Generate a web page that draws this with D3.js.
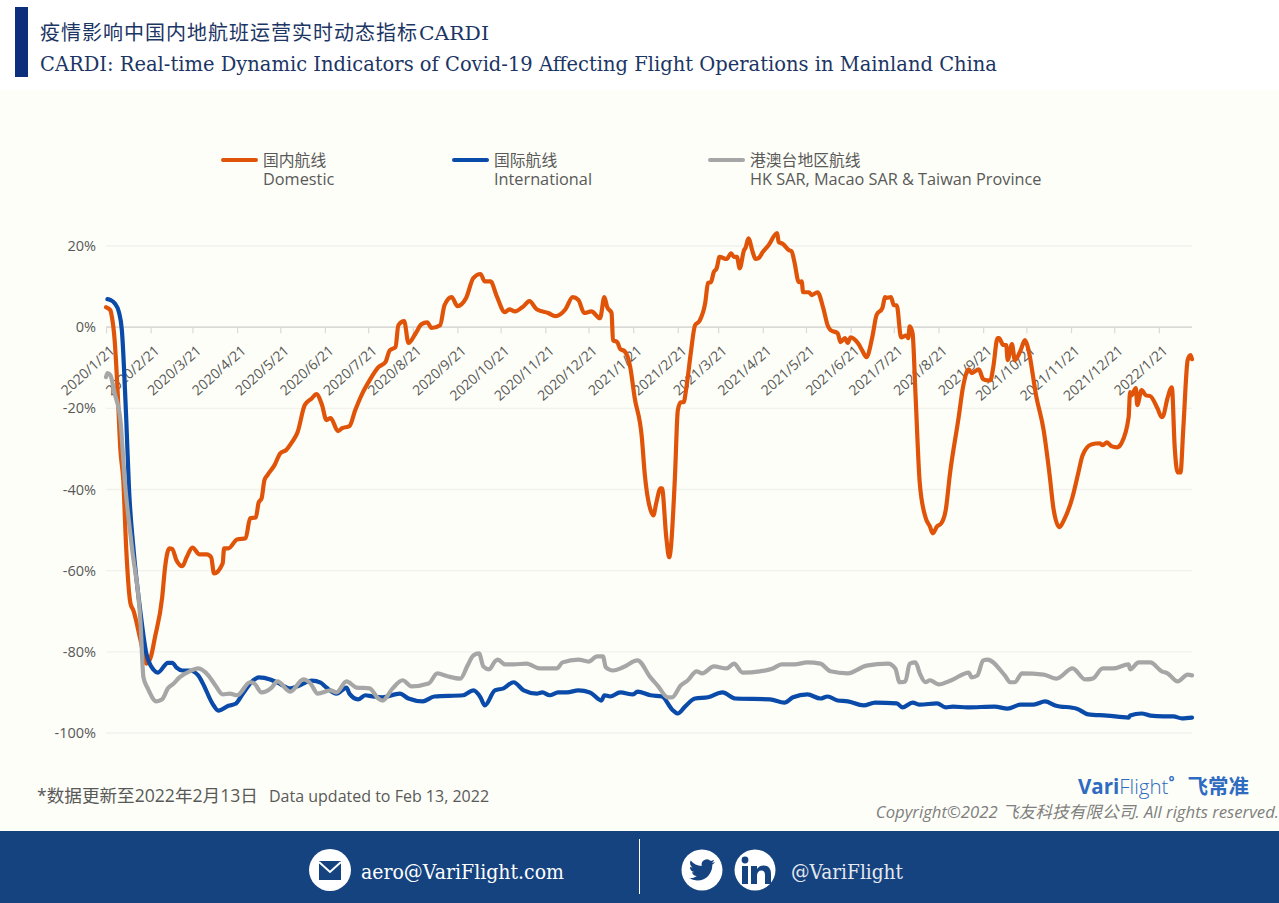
<!DOCTYPE html>
<html>
<head>
<meta charset="utf-8">
<script src="https://cdn.jsdelivr.net/npm/d3@7"></script>
<style>
    html, body { margin: 0; padding: 0; background: #fff; }
    svg { display: block; }
    .sans { font-family: "Open Sans", "Noto Sans CJK SC", sans-serif; }
    .cjk { font-family: "Noto Sans CJK SC", sans-serif; }
    .serif { font-family: "DejaVu Serif", "Noto Sans CJK SC", serif; }
</style>
</head>
<body>
<div id="chart"></div>
<script>
// all series are [days since 2020/1/21, percent]
const domestic = [[0,4.9],[3,4.2],[4,2.7],[6,-3.2],[8,-15.3],[10,-30.3],[12,-37.7],[14,-54.3],[17,-68.1],[19,-69.8],[24,-77.2],[28,-82.9],[31,-81.4],[34,-76.4],[39,-66.6],[41,-59.2],[44,-54.5],[46,-54.7],[49,-57.5],[53,-58.9],[56,-56.7],[60,-54.3],[65,-56],[70,-56],[73,-56.7],[75,-60.7],[81,-58.2],[82,-54.5],[85,-54.5],[91,-52.3],[97,-52],[100,-47.1],[104,-46.9],[106,-43.2],[108,-42.2],[110,-37.7],[112,-36.5],[117,-34],[121,-31.1],[125,-30.3],[129,-28.4],[133,-25.9],[138,-19.2],[143,-17.5],[146,-16.5],[150,-19.2],[153,-22.9],[156,-22.4],[161,-25.6],[164,-24.9],[169,-24.4],[173,-20.5],[178,-16.3],[183,-13.1],[189,-9.9],[194,-8.6],[197,-5.7],[201,-4.9],[203,0.5],[207,1.5],[210,-3.9],[215,-1.5],[219,0.7],[223,1.2],[226,-0.2],[232,0.5],[235,5.4],[240,7.4],[244,5.2],[250,7.2],[255,12.1],[260,13.1],[263,11.3],[267,11.3],[271,7.9],[277,3.7],[280,4.4],[284,3.9],[290,5.2],[294,6.4],[299,4.4],[307,3.5],[312,2.7],[319,4.4],[324,7.4],[328,6.7],[332,3.5],[337,3.9],[343,2.2],[346,7.4],[348,4.9],[351,3.5],[352,-3.2],[355,-3.7],[357,-5.4],[360,-5.9],[364,-9.9],[367,-17.3],[372,-27.1],[374,-36],[379,-45.9],[380,-46.4],[382,-43.4],[385,-39.7],[386,-39.7],[389,-51.8],[391,-56.7],[392,-55],[395,-37],[397,-20.5],[399,-18.5],[401,-18.5],[403,-14.8],[406,-6.4],[409,0.5],[412,1.5],[416,5.9],[418,10.9],[420,11.1],[422,13.6],[424,14.5],[426,17.3],[431,16.8],[434,18.2],[436,17.3],[438,17.3],[440,14.5],[443,19],[444,19.5],[446,21.9],[449,18.5],[451,16.8],[453,17],[456,18.5],[460,20.2],[466,23.2],[467,21],[470,20.5],[474,19],[476,18.7],[478,16],[481,11.1],[483,11.3],[484,8.6],[488,8.6],[490,7.9],[494,8.6],[498,4.7],[501,0.5],[503,-0.7],[508,-1.5],[510,-3.7],[513,-2.7],[515,-3.9],[517,-2.5],[522,-3.9],[525,-5.7],[528,-7.4],[532,-2.5],[535,3],[539,4.7],[541,7.4],[542,7.2],[545,7.4],[547,5.4],[549,5.4],[552,-2.5],[556,-2],[557,-2.7],[558,0.2],[560,-1.5],[562,-16.3],[565,-38.5],[569,-46.9],[572,-49.1],[574,-50.8],[577,-49.1],[580,-48.3],[583,-45.1],[586,-36],[592,-22.2],[595,-14.8],[599,-10.4],[601,-11.3],[606,-10.4],[609,-12.8],[612,-13.1],[614,-13.1],[616,-9.9],[619,-2.7],[620,-2.7],[623,-4.4],[625,-4.4],[626,-8.1],[629,-4.2],[631,-8.1],[635,-5.7],[638,-3.2],[640,-4.9],[646,-17.3],[651,-25.4],[655,-36],[658,-45.1],[662,-49.3],[665,-47.6],[671,-41.9],[675,-36],[678,-31.6],[684,-28.9],[690,-28.6],[692,-29.1],[695,-28.4],[698,-29.3],[702,-29.6],[705,-28.6],[710,-22.2],[711,-16],[712,-16.8],[715,-15],[716,-19.2],[719,-15.5],[722,-16.8],[725,-17],[730,-20],[733,-22.2],[734,-21.9],[737,-17.5],[740,-14.8],[742,-29.6],[744,-35.8],[746,-35.8],[748,-24.7],[751,-8.1],[753,-6.9],[754,-7.9]];

const international = [[1,6.9],[3,6.7],[6,5.9],[9,3.7],[11,-0.7],[14,-22.2],[16,-40],[19,-54.3],[24,-70.5],[28,-80.4],[33,-84.4],[36,-85.1],[43,-82.7],[46,-82.7],[49,-83.9],[53,-84.6],[58,-84.6],[64,-85.8],[67,-87.6],[74,-92.8],[78,-94.5],[85,-93.3],[90,-92.8],[95,-90.3],[102,-87.1],[106,-86.3],[114,-86.8],[119,-87.6],[128,-89],[133,-88.5],[143,-87.1],[149,-87.6],[153,-88.8],[160,-90.3],[167,-88.8],[169,-90.3],[175,-91.7],[180,-90.7],[185,-91],[192,-91.2],[204,-90.3],[210,-91.5],[220,-92.2],[228,-91],[248,-90.7],[255,-89.5],[260,-91.2],[263,-93.2],[270,-89.5],[276,-89],[283,-87.5],[290,-89.5],[299,-90.3],[303,-90],[308,-90.7],[314,-90],[320,-90],[328,-89.5],[336,-90],[344,-92],[346,-90.7],[350,-91],[357,-90],[366,-90.5],[369,-89.8],[378,-90.7],[386,-91],[393,-94.2],[397,-95.2],[402,-93.5],[409,-91.5],[418,-91.2],[428,-90],[437,-91.5],[461,-91.7],[471,-92.5],[477,-91.2],[487,-90.5],[496,-91.5],[501,-91],[508,-92],[515,-92.2],[526,-93.2],[534,-92.5],[549,-92.7],[553,-93.7],[560,-92.5],[565,-93],[577,-92.7],[583,-93.7],[588,-93.5],[598,-93.7],[617,-93.5],[626,-94],[635,-93],[644,-93],[652,-92.2],[659,-93.2],[674,-94],[682,-95.4],[695,-95.7],[710,-96.2],[711,-95.7],[719,-95.2],[725,-95.7],[734,-95.9],[741,-95.9],[747,-96.4],[754,-96.2]];

const hkMacaoTaiwan = [[0,-12.3],[1,-11.3],[3,-11.8],[6,-16.3],[10,-22.9],[13,-37.7],[18,-54.3],[24,-73],[26,-86.3],[29,-89],[35,-92.2],[39,-91.7],[43,-89],[47,-87.8],[51,-86.3],[58,-84.8],[64,-84.1],[71,-85.8],[76,-88.3],[81,-90.5],[86,-90.3],[91,-90.7],[100,-87.5],[103,-87.8],[108,-90],[115,-88.8],[119,-87.3],[128,-89.8],[137,-86.8],[142,-87.8],[147,-90.3],[156,-89.5],[160,-90],[167,-87.3],[174,-88.8],[183,-89],[189,-91.5],[192,-92],[199,-89],[206,-87],[212,-88.5],[224,-87.8],[230,-85.3],[237,-86],[246,-86.6],[251,-83.4],[255,-80.9],[259,-80.4],[262,-83.6],[266,-84.3],[270,-82.4],[272,-81.9],[277,-83.1],[283,-83.1],[292,-82.9],[301,-84.1],[313,-84.1],[317,-82.6],[328,-81.9],[335,-82.4],[341,-81.1],[345,-81.1],[347,-83.8],[352,-84.6],[359,-83.8],[369,-82.1],[378,-86.3],[383,-88.3],[390,-91.2],[393,-91.2],[399,-88.3],[404,-87],[410,-84.8],[414,-85.3],[422,-83.6],[431,-84.1],[436,-82.9],[442,-85.1],[454,-84.8],[463,-84.1],[469,-83.1],[478,-83.1],[487,-82.6],[496,-82.9],[503,-84.8],[515,-85.3],[528,-83.4],[543,-82.9],[548,-84.1],[551,-87.5],[555,-87.3],[558,-82.9],[562,-82.6],[565,-85.3],[569,-87.5],[572,-87],[578,-88],[587,-87],[599,-85.1],[601,-86.3],[605,-85.8],[609,-82.1],[612,-81.9],[624,-85.8],[628,-87.5],[631,-87.5],[636,-85.3],[651,-85.6],[660,-86.6],[671,-84.1],[680,-86.8],[685,-86.6],[692,-84.1],[699,-84.1],[710,-83.1],[711,-84.3],[717,-82.6],[725,-82.6],[733,-84.8],[737,-85.3],[744,-87.3],[751,-85.6],[754,-85.8]];

const tickLabels = ['2020/1/21','2020/2/21','2020/3/21','2020/4/21','2020/5/21','2020/6/21','2020/7/21','2020/8/21','2020/9/21','2020/10/21','2020/11/21','2020/12/21','2021/1/21','2021/2/21','2021/3/21','2021/4/21','2021/5/21','2021/6/21','2021/7/21','2021/8/21','2021/9/21','2021/10/21','2021/11/21','2021/12/21','2022/1/21'];
const yTicks = [20, 0, -20, -40, -60, -80, -100];

const seriesNames = ['国内航线', '国际航线', '港澳台地区航线'];
const seriesNamesEn = ['Domestic', 'International', 'HK SAR, Macao SAR & Taiwan Province'];
const seriesData = [domestic, international, hkMacaoTaiwan];
const seriesColors = ['#E0540A', '#0A4AA8', '#A6A6A6'];
const legendX = [221, 452, 708];

const svg = d3.select('#chart').append('svg')
    .attr('width', 1279)
    .attr('height', 903);

// background bands
svg.append('rect').attr('width', 1279).attr('height', 903).attr('fill', '#fff');
svg.append('rect').attr('y', 90).attr('width', 1279).attr('height', 741).attr('fill', '#FDFEF7');
svg.append('rect').attr('x', 15).attr('y', 7).attr('width', 13).attr('height', 70).attr('fill', '#0B2F7A');

// title
svg.append('text').attr('class', 'cjk')
    .attr('x', 40).attr('y', 40)
    .attr('font-size', 20).attr('letter-spacing', 1).attr('fill', '#1B3564')
    .text('疫情影响中国内地航班运营实时动态指标');
svg.append('text').attr('class', 'serif')
    .attr('x', 419).attr('y', 40)
    .attr('font-size', 19).attr('fill', '#1B3564')
    .attr('textLength', 70).attr('lengthAdjust', 'spacingAndGlyphs')
    .text('CARDI');
svg.append('text').attr('class', 'serif')
    .attr('x', 40).attr('y', 71)
    .attr('font-size', 21).attr('fill', '#1B3564')
    .attr('textLength', 957).attr('lengthAdjust', 'spacingAndGlyphs')
    .text('CARDI: Real-time Dynamic Indicators of Covid-19 Affecting Flight Operations in Mainland China');

// scales
const startDate = new Date(2020, 0, 21);
const parseTick = d3.timeParse('%Y/%-m/%-d');
const xScale = d3.scaleTime()
    .domain([startDate, d3.timeDay.offset(startDate, 754)])
    .range([106, 1192]);
const yScale = d3.scaleLinear()
    .domain([-100, 20])
    .range([733, 246]);

// gridlines
svg.append('g').selectAll('line')
    .data(yTicks.filter(d => d !== 0))
    .join('line')
    .attr('x1', 106).attr('x2', 1192)
    .attr('y1', d => yScale(d)).attr('y2', d => yScale(d))
    .attr('stroke', '#F1F1EE').attr('stroke-width', 1.3);

// y axis
const yAxis = svg.append('g')
    .attr('transform', 'translate(96,0)')
    .call(d3.axisLeft(yScale).tickValues(yTicks).tickSize(0).tickFormat(d => d + '%'));
yAxis.select('.domain').remove();
yAxis.selectAll('text')
    .attr('class', 'sans')
    .attr('x', 0)
    .style('font-size', '14.5px')
    .style('fill', '#595959');

// x axis sits on the 0% line, labels rotated
const xAxis = svg.append('g')
    .attr('transform', `translate(0,${yScale(0)})`)
    .call(d3.axisBottom(xScale)
        .tickValues(tickLabels.map(parseTick))
        .tickSize(6)
        .tickFormat((d, i) => tickLabels[i]));
xAxis.select('.domain')
    .attr('d', 'M106,0H1192')
    .attr('stroke', '#DADAD8').attr('stroke-width', 1.8);
xAxis.selectAll('.tick line').attr('stroke', '#DADAD8').attr('stroke-width', 1.2);
xAxis.selectAll('text')
    .attr('class', 'sans')
    .attr('transform', 'translate(6,21) rotate(-42)')
    .attr('x', 0).attr('y', 0).attr('dy', '0.35em')
    .style('text-anchor', 'end')
    .style('font-size', '14px')
    .style('fill', '#595959');

// series
const line = d3.line()
    .curve(d3.curveMonotoneX)
    .x(d => xScale(d3.timeDay.offset(startDate, d[0])))
    .y(d => yScale(d[1]));

svg.append('g').selectAll('path')
    .data(seriesData)
    .join('path')
    .attr('d', line)
    .attr('fill', 'none')
    .attr('stroke', (d, i) => seriesColors[i])
    .attr('stroke-width', 4.2)
    .attr('stroke-linejoin', 'round')
    .attr('stroke-linecap', 'round');

// legend
const legend = svg.append('g').selectAll('g')
    .data(seriesNames)
    .join('g')
    .attr('transform', (d, i) => `translate(${legendX[i]},0)`);
legend.append('line')
    .attr('x1', 2).attr('x2', 35).attr('y1', 160).attr('y2', 160)
    .attr('stroke', (d, i) => seriesColors[i])
    .attr('stroke-width', 4)
    .attr('stroke-linecap', 'round');
legend.append('text').attr('class', 'cjk')
    .attr('x', 42).attr('y', 166)
    .attr('font-size', 15.8).attr('fill', '#595959')
    .text(d => d);
legend.append('text').attr('class', 'sans')
    .attr('x', 42).attr('y', 184.5)
    .attr('font-size', 16.3).attr('fill', '#595959')
    .text((d, i) => seriesNamesEn[i]);

// footnote
svg.append('text').attr('class', 'sans')
    .attr('x', 37).attr('y', 802)
    .attr('font-size', 17.6).attr('fill', '#595959')
    .text('*数据更新至2022年2月13日');
svg.append('text').attr('class', 'sans')
    .attr('x', 269).attr('y', 802)
    .attr('font-size', 16).attr('fill', '#595959')
    .text('Data updated to Feb 13, 2022');

// logo and copyright
const logo = svg.append('text').attr('class', 'sans')
    .attr('x', 1078).attr('y', 794)
    .attr('font-size', 20.5).attr('fill', '#2F6BC0');
logo.append('tspan').attr('font-weight', 700).text('Vari');
logo.append('tspan').attr('font-weight', 300).text('Flight');
logo.append('tspan').attr('font-size', 14).attr('dy', -7).attr('font-weight', 700).text('°');
logo.append('tspan').attr('class', 'cjk').attr('dx', 13).attr('dy', 7).attr('font-weight', 700).text('飞常准');

svg.append('text').attr('class', 'sans')
    .attr('x', 1279).attr('y', 818)
    .attr('text-anchor', 'end')
    .attr('font-size', 16.7).attr('font-style', 'italic').attr('fill', '#7F7F7F')
    .text('Copyright©2022 飞友科技有限公司. All rights reserved.');

// footer
svg.append('rect').attr('y', 831).attr('width', 1279).attr('height', 72).attr('fill', '#15437F');
svg.append('line')
    .attr('x1', 639.5).attr('x2', 639.5).attr('y1', 839).attr('y2', 894)
    .attr('stroke', '#fff').attr('stroke-width', 1);

const footerBlue = '#15437F';
svg.append('circle').attr('cx', 330).attr('cy', 870).attr('r', 21).attr('fill', '#fff');
svg.append('path')
    .attr('d', 'M319,861H341V880H319Z')
    .attr('fill', footerBlue);
svg.append('path')
    .attr('d', 'M319,862L330,872L341,862')
    .attr('fill', 'none').attr('stroke', '#fff').attr('stroke-width', 2);

svg.append('circle').attr('cx', 702).attr('cy', 870).attr('r', 20.5).attr('fill', '#fff');
svg.append('path')
    .attr('transform', 'translate(689,857) scale(1.08)')
    .attr('fill', footerBlue)
    .attr('d', 'M23.953 4.57a10 10 0 01-2.825.775 4.958 4.958 0 002.163-2.723c-.951.555-2.005.959-3.127 1.184a4.92 4.92 0 00-8.384 4.482C7.69 8.095 4.067 6.13 1.64 3.162a4.822 4.822 0 00-.666 2.475c0 1.71.87 3.213 2.188 4.096a4.904 4.904 0 01-2.228-.616v.06a4.923 4.923 0 003.946 4.827 4.996 4.996 0 01-2.212.085 4.936 4.936 0 004.604 3.417 9.867 9.867 0 01-6.102 2.105c-.39 0-.779-.023-1.17-.067a13.995 13.995 0 007.557 2.209c9.053 0 13.998-7.496 13.998-13.985 0-.21 0-.42-.015-.63A9.935 9.935 0 0024 4.59z');

svg.append('circle').attr('cx', 755).attr('cy', 870).attr('r', 20.5).attr('fill', '#fff');
svg.append('circle').attr('cx', 745).attr('cy', 860).attr('r', 3.4).attr('fill', footerBlue);
svg.append('rect').attr('x', 742).attr('y', 866).attr('width', 6).attr('height', 18).attr('fill', footerBlue);
svg.append('path')
    .attr('fill', footerBlue)
    .attr('d', 'M751,866H757V869C758.5,866.5 761,865.5 763.5,865.5C768.5,865.5 771,868.5 771,874V884H765V875C765,872.5 764,870.5 761.5,870.5C758.8,870.5 757,872.5 757,875.5V884H751Z');

svg.append('text').attr('class', 'serif')
    .attr('x', 361).attr('y', 879)
    .attr('font-size', 20).attr('fill', '#fff')
    .attr('textLength', 203).attr('lengthAdjust', 'spacingAndGlyphs')
    .text('aero@VariFlight.com');
svg.append('text').attr('class', 'serif')
    .attr('x', 791).attr('y', 879)
    .attr('font-size', 20).attr('fill', '#E4E8F0')
    .attr('textLength', 112).attr('lengthAdjust', 'spacingAndGlyphs')
    .text('@VariFlight');
</script>
</body>
</html>
